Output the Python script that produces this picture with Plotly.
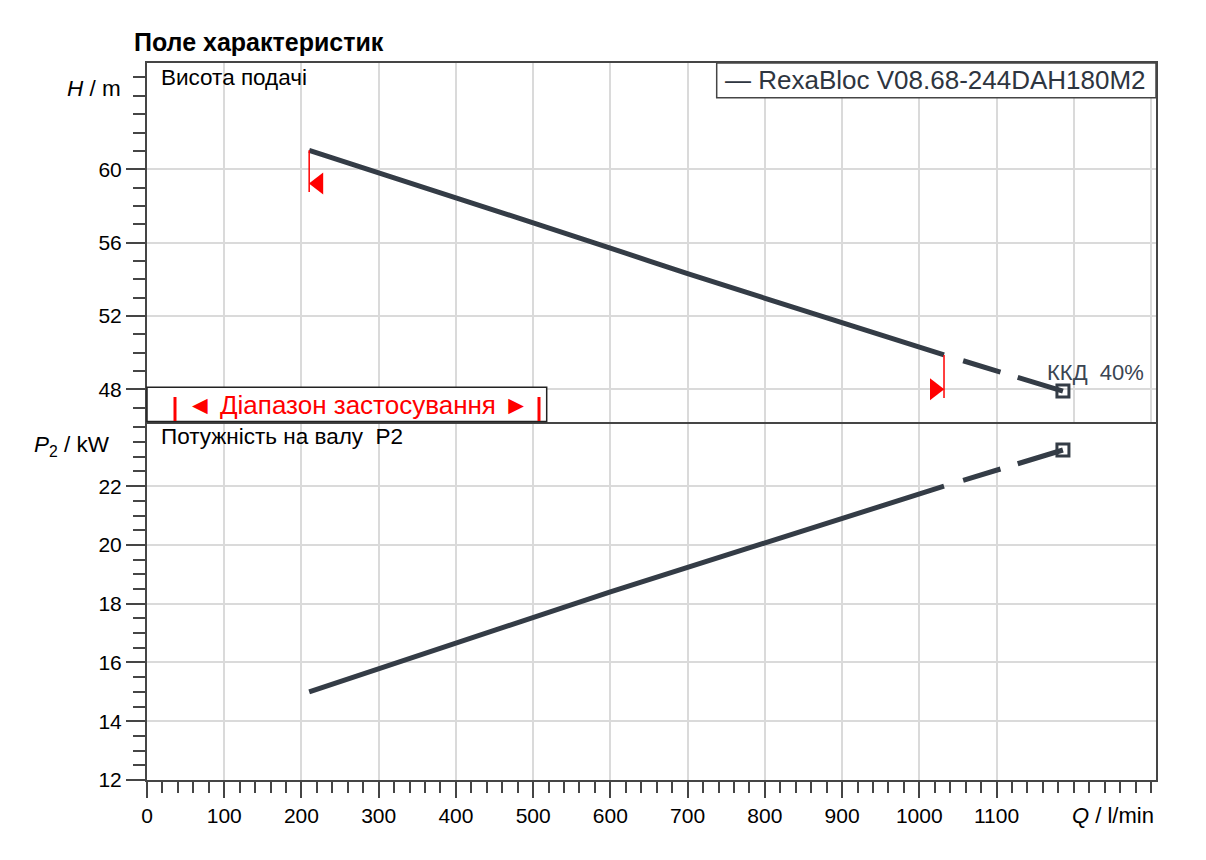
import plotly.graph_objects as go

# pump curve
Q_H = [210, 400, 600, 700, 1032]
H_VALS = [61.03, 58.44, 55.70, 54.30, 49.87]
Q_EXT = [1032, 1186]
H_EXT = [49.87, 47.9]

Q_P = [210, 600, 1032]
P_VALS = [15.0, 18.4, 22.0]
P_EXT = [22.0, 23.23]

Q_MIN, Q_MAX = 210, 1032
H_MIN_MARK = [61.03, 58.76]
H_MAX_MARK = [49.87, 47.52]
TRI_LEFT = (222, 59.22)
TRI_RIGHT = (1020, 48.0)

X_TICKS = list(range(0, 1200, 100))
X_LABELS = [str(v) for v in X_TICKS]
X_TICKS_NOLABEL = [1200, 1300]
H_TICKS = [48, 52, 56, 60]
H_TICKS_NOLABEL = [64]
P_TICKS = [12, 14, 16, 18, 20, 22]
P_TICKS_NOLABEL = [24]

X_RANGE = [0, 1306.5]
H_RANGE = [46.24, 65.79]
P_RANGE = [12, 24.2]

MODEL = "RexaBloc V08.68-244DAH180M2"
EFF_TEXT = "ККД\u00a0\u00a040%"

LINE_COLOR = "#343c46"
AXIS_COLOR = "#454545"
GRID_COLOR = "#dadada"
RED = "#ff0000"
FONT = "Liberation Sans, Arial, sans-serif"

W, H = 1206, 860
PAGE_OFF = 8  # body margin of the page
# plot frame as seen on the page
FR_L, FR_R, FR_T, FR_B = 147, 1156, 63, 780
ML = FR_L - PAGE_OFF
MT = FR_T - PAGE_OFF
MR = W - (FR_R - PAGE_OFF)
MB = H - (FR_B - PAGE_OFF)


def px_x(p):
    return (p - FR_L) / (FR_R - FR_L)


def px_y(p):
    return (FR_B - p) / (FR_B - FR_T)


fig = go.Figure()

# head curve (top panel)
fig.add_trace(go.Scatter(x=Q_H, y=H_VALS, mode="lines", xaxis="x2", yaxis="y",
                         line=dict(color=LINE_COLOR, width=5, shape="spline", smoothing=0.6)))
fig.add_trace(go.Scatter(x=Q_EXT, y=H_EXT, mode="lines", xaxis="x2", yaxis="y",
                         line=dict(color=LINE_COLOR, width=5,
                                   dash="0px,20px,39px,18px,80px")))
fig.add_trace(go.Scatter(x=Q_EXT[-1:], y=H_EXT[-1:], mode="markers", xaxis="x2", yaxis="y",
                         marker=dict(symbol="square-open", size=12, color=LINE_COLOR,
                                     line=dict(width=3, color=LINE_COLOR))))

# operating range marks
fig.add_trace(go.Scatter(x=[Q_MIN, Q_MIN], y=H_MIN_MARK, mode="lines", xaxis="x2", yaxis="y",
                         line=dict(color=RED, width=1.5)))
fig.add_trace(go.Scatter(x=[Q_MAX, Q_MAX], y=H_MAX_MARK, mode="lines", xaxis="x2", yaxis="y",
                         line=dict(color=RED, width=1.5)))
fig.add_trace(go.Scatter(x=[TRI_LEFT[0]], y=[TRI_LEFT[1]], mode="markers", xaxis="x2", yaxis="y",
                         marker=dict(symbol="triangle-left", size=19, color=RED)))
fig.add_trace(go.Scatter(x=[TRI_RIGHT[0]], y=[TRI_RIGHT[1]], mode="markers", xaxis="x2", yaxis="y",
                         marker=dict(symbol="triangle-right", size=19, color=RED)))

# power curve (bottom panel)
fig.add_trace(go.Scatter(x=Q_P, y=P_VALS, mode="lines", xaxis="x", yaxis="y2",
                         line=dict(color=LINE_COLOR, width=5, shape="spline", smoothing=0.6)))
fig.add_trace(go.Scatter(x=Q_EXT, y=P_EXT, mode="lines", xaxis="x", yaxis="y2",
                         line=dict(color=LINE_COLOR, width=5,
                                   dash="0px,20px,39px,18px,80px")))
fig.add_trace(go.Scatter(x=Q_EXT[-1:], y=P_EXT[-1:], mode="markers", xaxis="x", yaxis="y2",
                         marker=dict(symbol="square-open", size=12, color=LINE_COLOR,
                                     line=dict(width=3, color=LINE_COLOR))))

common_axis = dict(showline=True, linecolor=AXIS_COLOR, linewidth=2,
                   showgrid=True, gridcolor=GRID_COLOR, gridwidth=1.5, zeroline=False,
                   tickfont=dict(family=FONT, size=21, color="black"))
# extra ticks/gridlines whose labels are replaced by the axis titles
extra_axis = dict(showline=False, showgrid=True, gridcolor=GRID_COLOR, gridwidth=1.5,
                  zeroline=False, showticklabels=False, tickmode="array",
                  ticks="outside", tickwidth=2, tickcolor=AXIS_COLOR)

fig.update_layout(
    width=W, height=H,
    margin=dict(l=ML, r=MR, t=MT, b=MB),
    paper_bgcolor="white", plot_bgcolor="white",
    showlegend=False, hovermode=False,
    font=dict(family=FONT, color="black"),
    xaxis=dict(common_axis, domain=[0, 1], anchor="y2", range=X_RANGE, mirror=False,
               tickmode="array", tickvals=X_TICKS, ticktext=X_LABELS,
               ticks="outside", ticklen=16, tickwidth=2, tickcolor=AXIS_COLOR,
               minor=dict(dtick=20, tick0=0, ticks="outside", ticklen=11, tickwidth=2,
                          tickcolor=AXIS_COLOR, showgrid=False)),
    xaxis2=dict(common_axis, domain=[0, 1], anchor="y", matches="x", range=X_RANGE,
                mirror=True, tickmode="array", tickvals=X_TICKS + X_TICKS_NOLABEL,
                showticklabels=False, ticks=""),
    xaxis3=dict(extra_axis, overlaying="x", anchor="y2", range=X_RANGE,
                tickvals=X_TICKS_NOLABEL, ticklen=16),
    yaxis=dict(common_axis, domain=[0.5, 1], anchor="x2", range=H_RANGE, mirror=True,
               tickmode="array", tickvals=H_TICKS,
               ticks="outside", ticklen=19, tickwidth=2, tickcolor=AXIS_COLOR,
               minor=dict(dtick=1, tick0=0, ticks="outside", ticklen=12, tickwidth=2,
                          tickcolor=AXIS_COLOR, showgrid=False)),
    yaxis3=dict(extra_axis, overlaying="y", anchor="x2", side="left", range=H_RANGE,
                tickvals=H_TICKS_NOLABEL, ticklen=19),
    yaxis2=dict(common_axis, domain=[0, 0.5], anchor="x", range=P_RANGE, mirror=True,
                tickmode="array", tickvals=P_TICKS,
                ticks="outside", ticklen=19, tickwidth=2, tickcolor=AXIS_COLOR,
                minor=dict(dtick=0.5, tick0=0, ticks="outside", ticklen=12, tickwidth=2,
                           tickcolor=AXIS_COLOR, showgrid=False)),
    yaxis4=dict(extra_axis, overlaying="y2", anchor="x", side="left", range=P_RANGE,
                tickvals=P_TICKS_NOLABEL, ticklen=19),
)

shapes = [
    # legend box
    dict(type="rect", xref="paper", yref="paper", x0=px_x(716.7), x1=1.0,
         y0=px_y(97.7), y1=1.0, line=dict(color=AXIS_COLOR, width=1.5), fillcolor="white"),
    # range box
    dict(type="rect", xref="paper", yref="paper", x0=0, x1=px_x(546.7),
         y0=0.5, y1=px_y(387.3), line=dict(color="#222222", width=1.5), fillcolor="white"),
    dict(type="line", xref="paper", yref="paper", x0=px_x(175), x1=px_x(175),
         y0=px_y(421), y1=px_y(397), line=dict(color=RED, width=3)),
    dict(type="line", xref="paper", yref="paper", x0=px_x(539), x1=px_x(539),
         y0=px_y(421), y1=px_y(397), line=dict(color=RED, width=3)),
]
fig.update_layout(shapes=shapes)

annotations = [
    dict(text="<b>Поле характеристик</b>", xref="paper", yref="paper",
         x=px_x(132), y=px_y(42), xanchor="left", yanchor="middle", showarrow=False,
         font=dict(family=FONT, size=25, color="black")),
    dict(text="Висота подачі", xref="paper", yref="paper",
         x=px_x(159), y=px_y(77), xanchor="left", yanchor="middle", showarrow=False,
         font=dict(family=FONT, size=22.5, color="black")),
    dict(text="Потужність на валу  P2", xref="paper", yref="paper",
         x=px_x(159), y=px_y(436), xanchor="left", yanchor="middle", showarrow=False,
         font=dict(family=FONT, size=22.5, color="black")),
    dict(text="— " + MODEL, xref="paper", yref="paper",
         x=px_x(723), y=px_y(80), xanchor="left", yanchor="middle", showarrow=False,
         font=dict(family=FONT, size=26, color="#2e3540")),
    dict(text="◄ Діапазон застосування ►", xref="paper", yref="paper",
         x=px_x(357.5), y=px_y(404.5), xanchor="center", yanchor="middle", showarrow=False,
         font=dict(family=FONT, size=26, color=RED)),
    dict(text=EFF_TEXT, xref="x2", yref="y", x=Q_EXT[-1], y=H_EXT[-1],
         xanchor="center", yanchor="bottom", xshift=33, yshift=4, showarrow=False,
         font=dict(family=FONT, size=22, color="#3a4552")),
    dict(text="<i>H</i> / m", xref="paper", yref="paper",
         x=px_x(123), y=px_y(88), xanchor="right", yanchor="middle", showarrow=False,
         font=dict(family=FONT, size=22.5, color="black")),
    dict(text="<i>P</i><sub>2</sub> / kW", xref="paper", yref="paper",
         x=px_x(112), y=px_y(446), xanchor="right", yanchor="middle", showarrow=False,
         font=dict(family=FONT, size=22.5, color="black")),
    dict(text="<i>Q</i> / l/min", xref="paper", yref="paper",
         x=1.0, y=px_y(815), xanchor="right", yanchor="middle", showarrow=False,
         font=dict(family=FONT, size=22, color="black")),
]
fig.update_layout(annotations=annotations)

fig.write_html("out.html")
